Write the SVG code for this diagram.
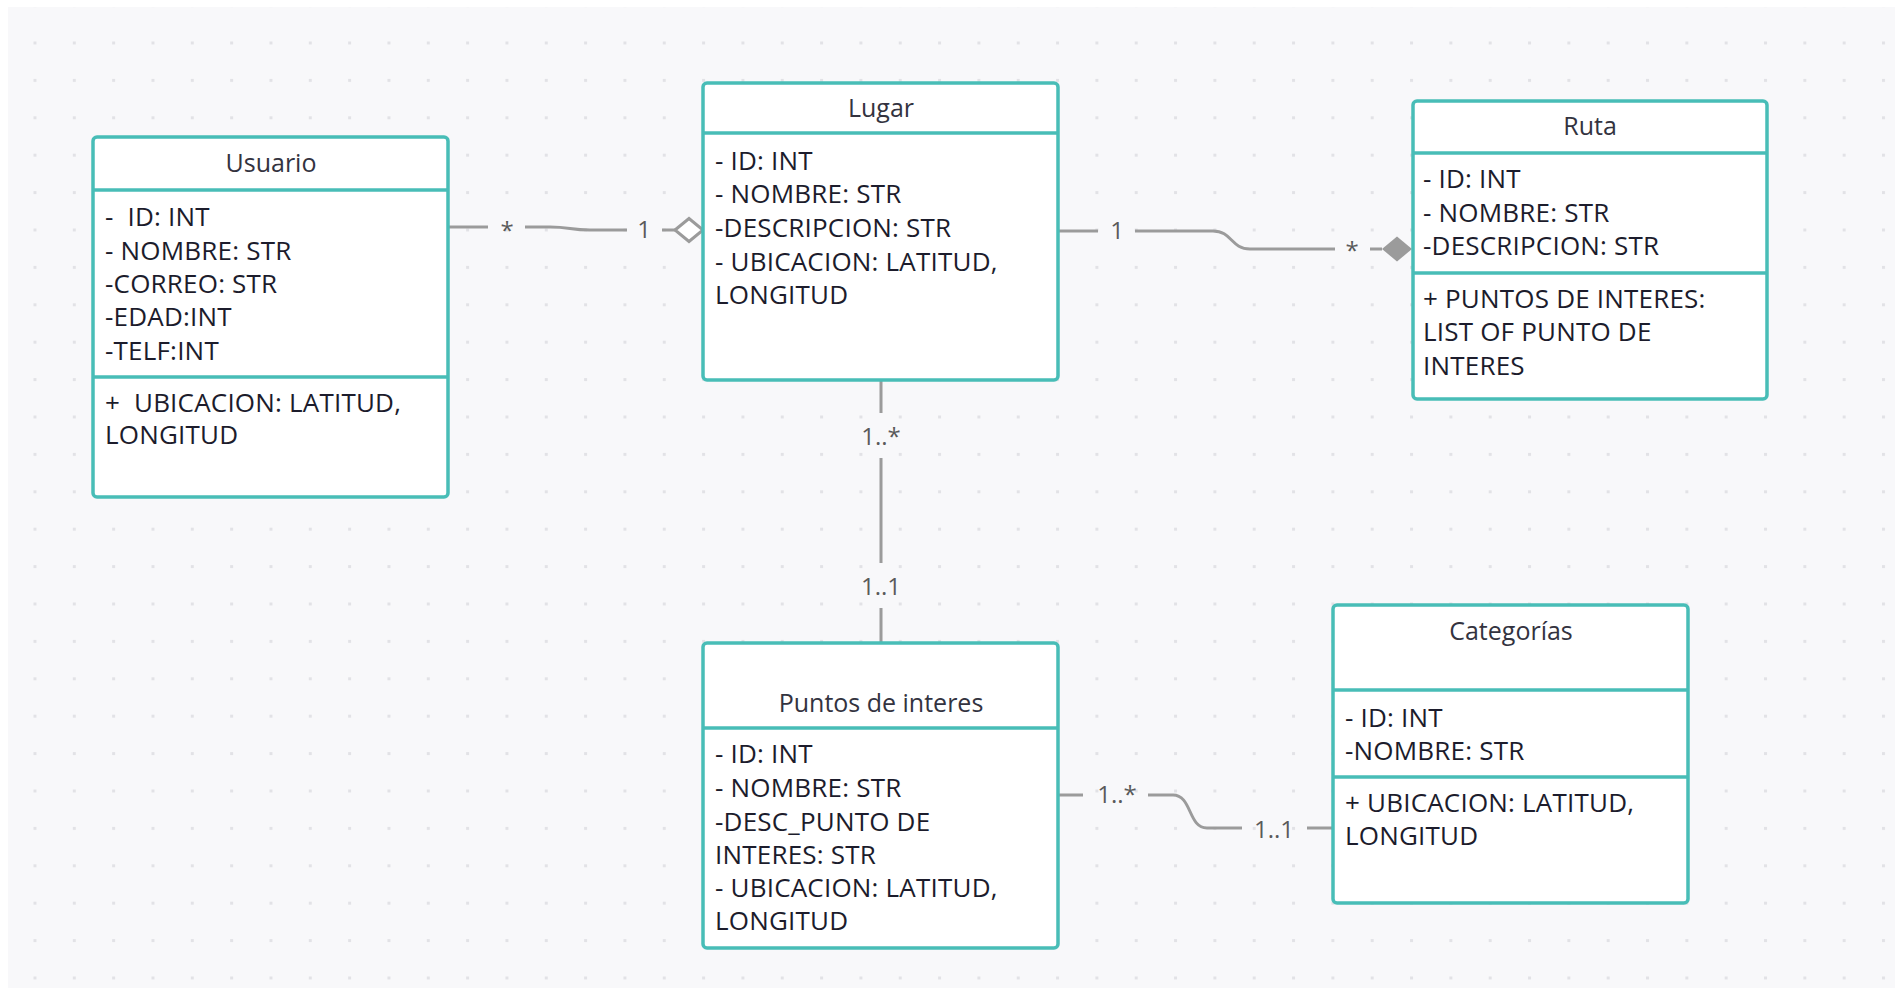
<svg xmlns="http://www.w3.org/2000/svg" width="1903" height="990" viewBox="0 0 1903 990">
<defs>
<pattern id="dots" patternUnits="userSpaceOnUse" x="33.5" y="41.5" width="39.33" height="37.4">
<rect x="0" y="0" width="3" height="3" fill="#e2e2e6"/>
</pattern>
<style>
.box{fill:#ffffff;stroke:#48bdb7;stroke-width:3.5}
.sep{stroke:#48bdb7;stroke-width:3.5}
.title{font-family:"Open Sans","Noto Sans",sans-serif;font-size:25px;fill:#333340;text-anchor:middle}
.attr{font-family:"Open Sans","Noto Sans",sans-serif;font-size:26px;letter-spacing:0.2px;fill:#1c1c2c}
.conn{fill:none;stroke:#9b9b9b;stroke-width:3}
.lbl{font-family:"Open Sans","Noto Sans",sans-serif;font-size:24px;fill:#5a5a5a;text-anchor:middle}
</style>
</defs>
<rect x="0" y="0" width="1903" height="990" fill="#ffffff"/>
<rect x="8" y="7" width="1887" height="981" fill="#f8f8fa"/>
<rect x="8" y="7" width="1887" height="981" fill="url(#dots)"/>

<g id="connectors">
<path class="conn" d="M448,227 H488"/>
<path class="conn" d="M525,227 H550 C570,227 570,230 590,230 H627"/>
<path class="conn" d="M662,230 H675"/>
<polygon points="675,230 689,218.5 703,230 689,241.5" fill="#ffffff" stroke="#9b9b9b" stroke-width="3"/>
<text class="lbl" x="507" y="239">*</text>
<text class="lbl" x="644" y="238">1</text>

<path class="conn" d="M1058,231 H1098"/>
<path class="conn" d="M1135,231 H1213 C1232,231 1231,249 1250,249 H1335"/>
<path class="conn" d="M1370,249 H1382"/>
<polygon points="1382,249 1397,236.5 1412,249 1397,261.5" fill="#9b9b9b"/>
<text class="lbl" x="1117" y="239">1</text>
<text class="lbl" x="1352" y="259">*</text>

<path class="conn" d="M881,380 V413"/>
<path class="conn" d="M881,458 V563"/>
<path class="conn" d="M881,608 V643"/>
<text class="lbl" x="881" y="445">1..*</text>
<text class="lbl" x="881" y="595">1..1</text>

<path class="conn" d="M1058,795 H1083"/>
<path class="conn" d="M1148,795 H1173 C1192,795 1188,828 1207,828 H1242"/>
<path class="conn" d="M1307,828 H1333"/>
<text class="lbl" x="1117" y="803">1..*</text>
<text class="lbl" x="1274" y="838">1..1</text>
</g>

<g id="usuario">
<rect class="box" x="93" y="137" width="355" height="360" rx="4"/>
<line class="sep" x1="93" y1="190" x2="448" y2="190"/>
<line class="sep" x1="93" y1="377" x2="448" y2="377"/>
<text class="title" x="271" y="172">Usuario</text>
<text class="attr" x="105" y="226">-&#160; ID: INT</text>
<text class="attr" x="105" y="259.5">- NOMBRE: STR</text>
<text class="attr" x="105" y="293">-CORREO: STR</text>
<text class="attr" x="105" y="326">-EDAD:INT</text>
<text class="attr" x="105" y="359.5">-TELF:INT</text>
<text class="attr" x="105" y="412">+&#160; UBICACION: LATITUD,</text>
<text class="attr" x="105" y="444">LONGITUD</text>
</g>

<g id="lugar">
<rect class="box" x="703" y="83" width="355" height="297" rx="4"/>
<line class="sep" x1="703" y1="133" x2="1058" y2="133"/>
<text class="title" x="881" y="117">Lugar</text>
<text class="attr" x="715" y="170">- ID: INT</text>
<text class="attr" x="715" y="203">- NOMBRE: STR</text>
<text class="attr" x="715" y="237">-DESCRIPCION: STR</text>
<text class="attr" x="715" y="271">- UBICACION: LATITUD,</text>
<text class="attr" x="715" y="304">LONGITUD</text>
</g>

<g id="ruta">
<rect class="box" x="1413" y="101" width="354" height="298" rx="4"/>
<line class="sep" x1="1413" y1="153" x2="1767" y2="153"/>
<line class="sep" x1="1413" y1="273" x2="1767" y2="273"/>
<text class="title" x="1590" y="135">Ruta</text>
<text class="attr" x="1423" y="188">- ID: INT</text>
<text class="attr" x="1423" y="222">- NOMBRE: STR</text>
<text class="attr" x="1423" y="255">-DESCRIPCION: STR</text>
<text class="attr" x="1423" y="308">+ PUNTOS DE INTERES:</text>
<text class="attr" x="1423" y="341">LIST OF PUNTO DE</text>
<text class="attr" x="1423" y="375">INTERES</text>
</g>

<g id="puntos">
<rect class="box" x="703" y="643" width="355" height="305" rx="4"/>
<line class="sep" x1="703" y1="728" x2="1058" y2="728"/>
<text class="title" x="881" y="712">Puntos de interes</text>
<text class="attr" x="715" y="763">- ID: INT</text>
<text class="attr" x="715" y="797">- NOMBRE: STR</text>
<text class="attr" x="715" y="831">-DESC_PUNTO DE</text>
<text class="attr" x="715" y="864">INTERES: STR</text>
<text class="attr" x="715" y="897">- UBICACION: LATITUD,</text>
<text class="attr" x="715" y="930">LONGITUD</text>
</g>

<g id="categorias">
<rect class="box" x="1333" y="605" width="355" height="298" rx="4"/>
<line class="sep" x1="1333" y1="690" x2="1688" y2="690"/>
<line class="sep" x1="1333" y1="777" x2="1688" y2="777"/>
<text class="title" x="1511" y="640">Categorías</text>
<text class="attr" x="1345" y="727">- ID: INT</text>
<text class="attr" x="1345" y="760">-NOMBRE: STR</text>
<text class="attr" x="1345" y="812">+ UBICACION: LATITUD,</text>
<text class="attr" x="1345" y="845">LONGITUD</text>
</g>
</svg>
